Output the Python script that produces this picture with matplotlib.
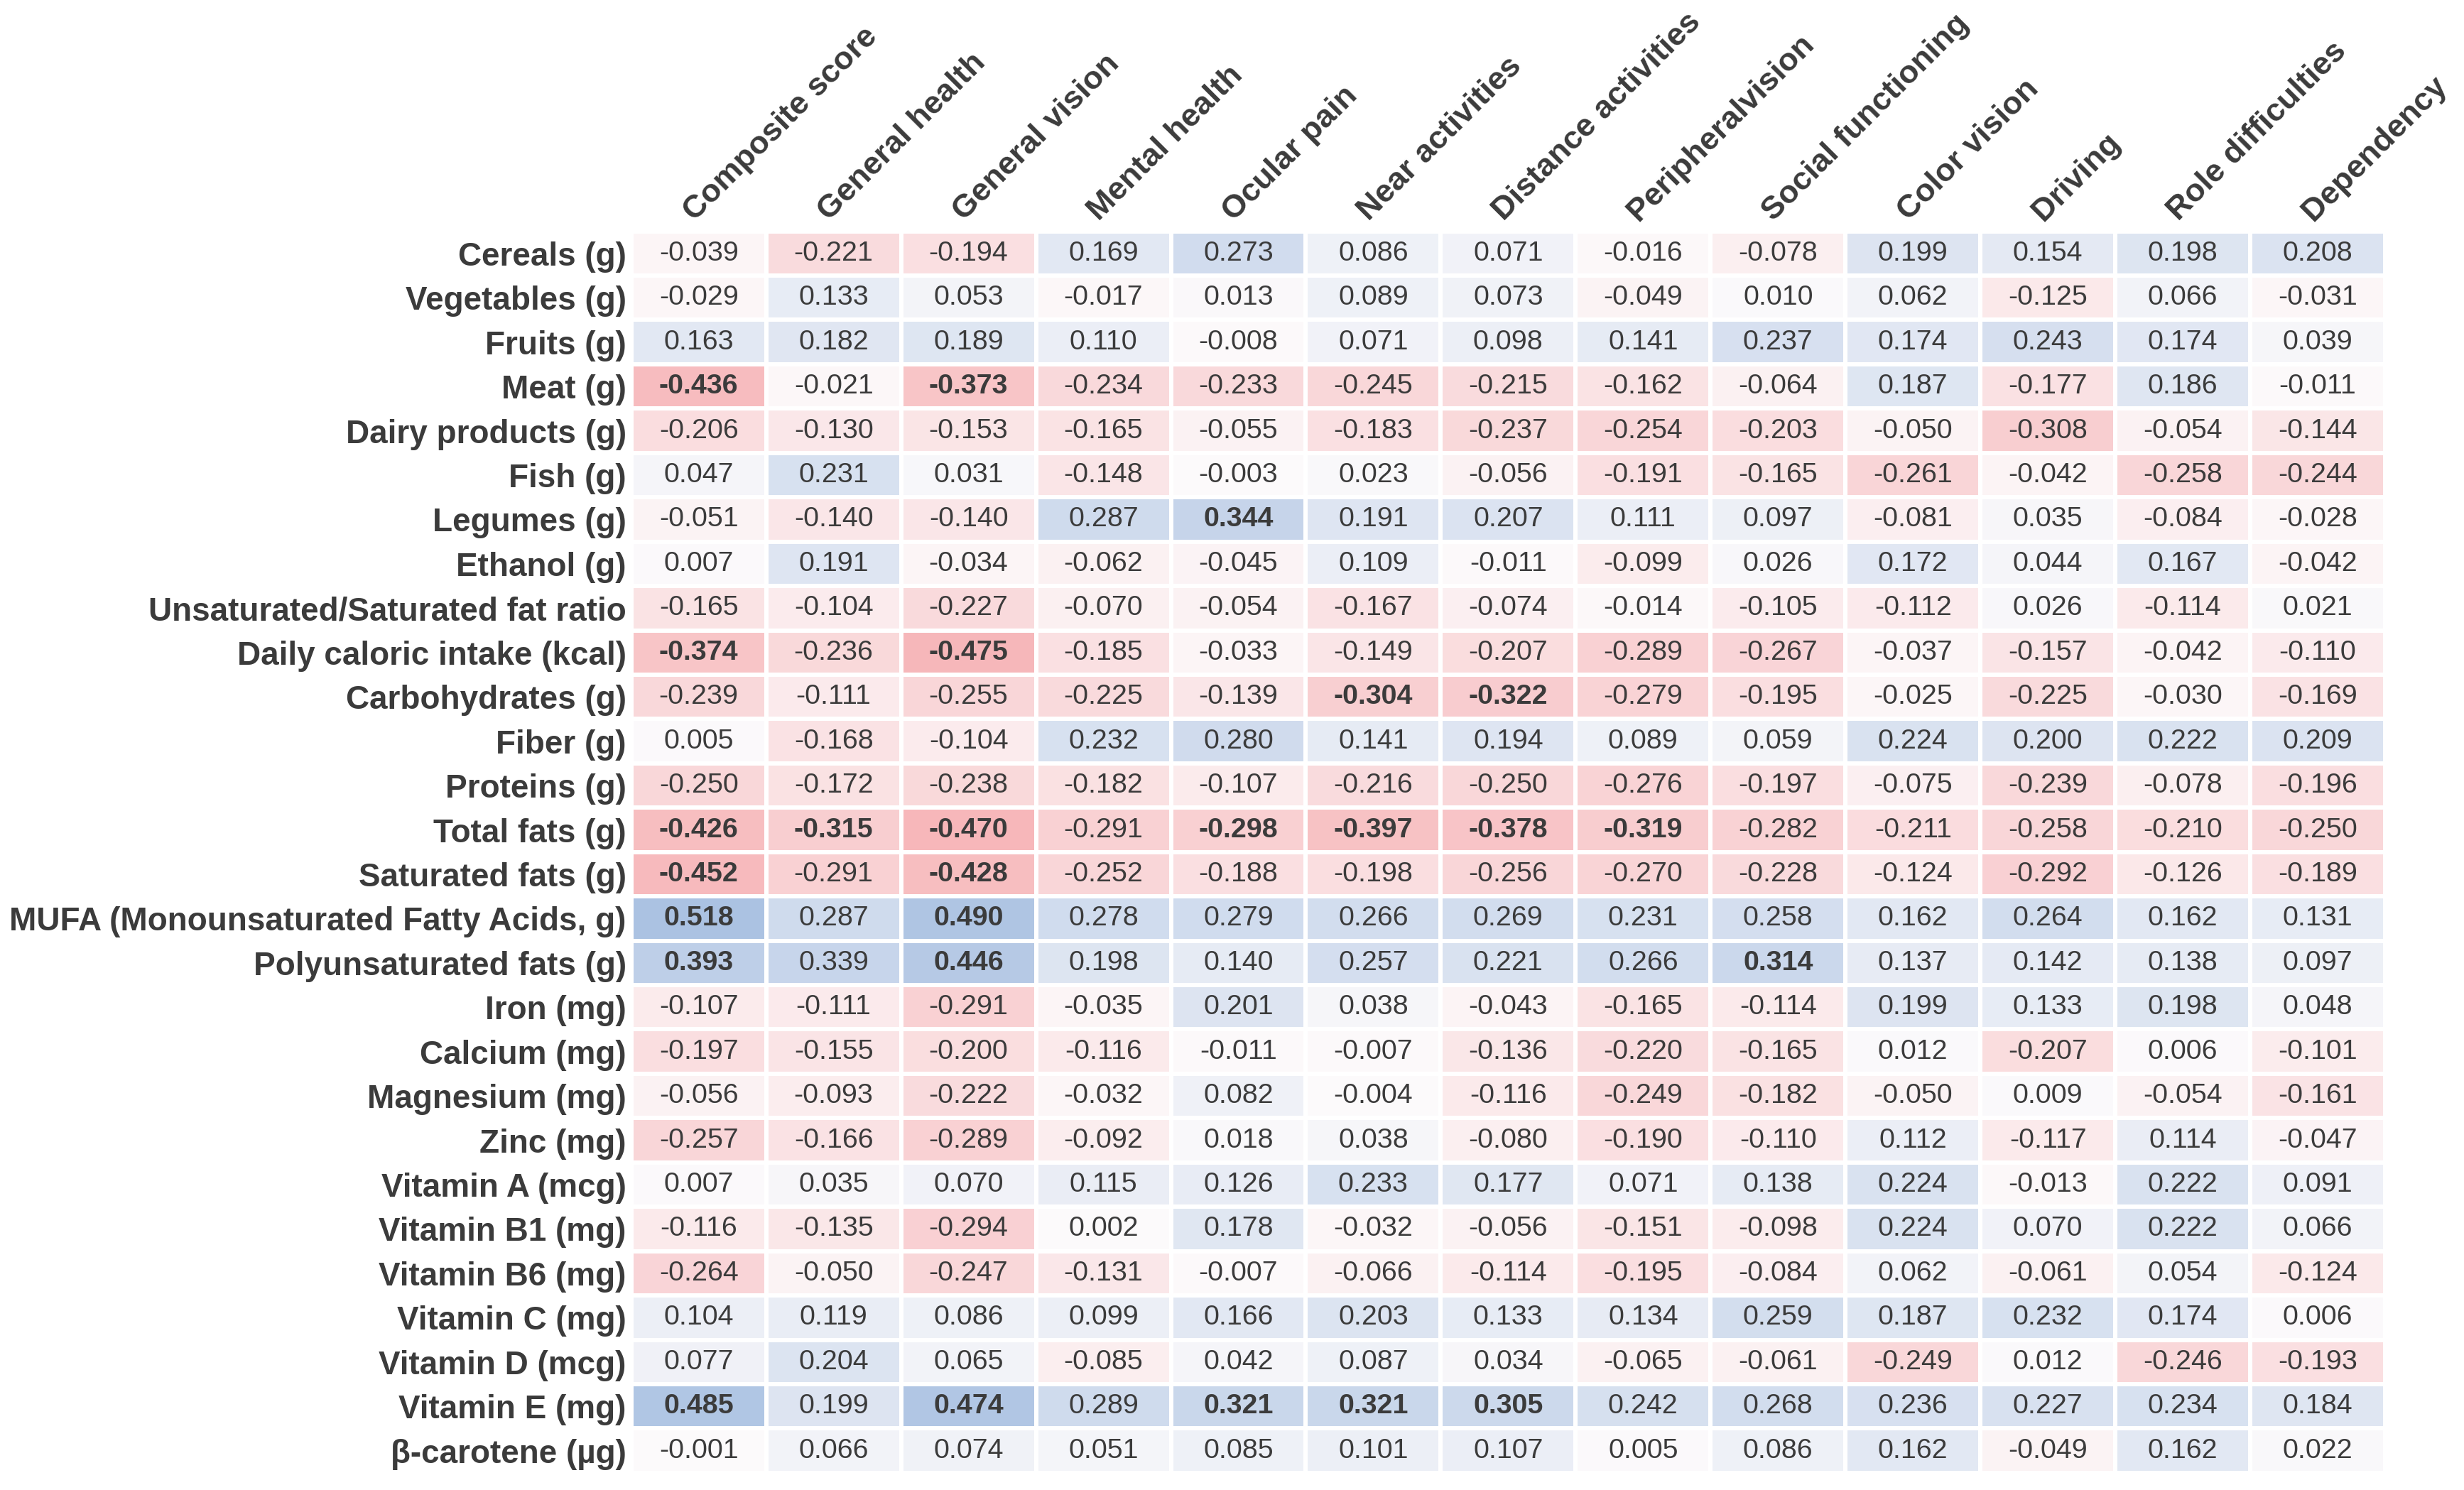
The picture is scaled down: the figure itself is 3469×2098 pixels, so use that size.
import numpy as np
import matplotlib
matplotlib.use("Agg")
import matplotlib.pyplot as plt
from matplotlib.colors import LinearSegmentedColormap, Normalize

plt.rcParams['font.family'] = ['Liberation Sans', 'DejaVu Sans']

cols = ["Composite score", "General health", "General vision", "Mental health",
        "Ocular pain", "Near activities", "Distance activities", "Peripheralvision",
        "Social functioning", "Color vision", "Driving", "Role difficulties", "Dependency"]

rows = ["Cereals (g)", "Vegetables (g)", "Fruits (g)", "Meat (g)", "Dairy products (g)",
        "Fish (g)", "Legumes (g)", "Ethanol (g)", "Unsaturated/Saturated fat ratio",
        "Daily caloric intake (kcal)", "Carbohydrates (g)", "Fiber (g)", "Proteins (g)",
        "Total fats (g)", "Saturated fats (g)", "MUFA (Monounsaturated Fatty Acids, g)",
        "Polyunsaturated fats (g)", "Iron (mg)", "Calcium (mg)", "Magnesium (mg)",
        "Zinc (mg)", "Vitamin A (mcg)", "Vitamin B1 (mg)", "Vitamin B6 (mg)",
        "Vitamin C (mg)", "Vitamin D (mcg)", "Vitamin E (mg)", "\u03b2-carotene (\u00b5g)"]

vals = np.array([
    [-0.039, -0.221, -0.194, 0.169, 0.273, 0.086, 0.071, -0.016, -0.078, 0.199, 0.154, 0.198, 0.208],
    [-0.029, 0.133, 0.053, -0.017, 0.013, 0.089, 0.073, -0.049, 0.010, 0.062, -0.125, 0.066, -0.031],
    [0.163, 0.182, 0.189, 0.110, -0.008, 0.071, 0.098, 0.141, 0.237, 0.174, 0.243, 0.174, 0.039],
    [-0.436, -0.021, -0.373, -0.234, -0.233, -0.245, -0.215, -0.162, -0.064, 0.187, -0.177, 0.186, -0.011],
    [-0.206, -0.130, -0.153, -0.165, -0.055, -0.183, -0.237, -0.254, -0.203, -0.050, -0.308, -0.054, -0.144],
    [0.047, 0.231, 0.031, -0.148, -0.003, 0.023, -0.056, -0.191, -0.165, -0.261, -0.042, -0.258, -0.244],
    [-0.051, -0.140, -0.140, 0.287, 0.344, 0.191, 0.207, 0.111, 0.097, -0.081, 0.035, -0.084, -0.028],
    [0.007, 0.191, -0.034, -0.062, -0.045, 0.109, -0.011, -0.099, 0.026, 0.172, 0.044, 0.167, -0.042],
    [-0.165, -0.104, -0.227, -0.070, -0.054, -0.167, -0.074, -0.014, -0.105, -0.112, 0.026, -0.114, 0.021],
    [-0.374, -0.236, -0.475, -0.185, -0.033, -0.149, -0.207, -0.289, -0.267, -0.037, -0.157, -0.042, -0.110],
    [-0.239, -0.111, -0.255, -0.225, -0.139, -0.304, -0.322, -0.279, -0.195, -0.025, -0.225, -0.030, -0.169],
    [0.005, -0.168, -0.104, 0.232, 0.280, 0.141, 0.194, 0.089, 0.059, 0.224, 0.200, 0.222, 0.209],
    [-0.250, -0.172, -0.238, -0.182, -0.107, -0.216, -0.250, -0.276, -0.197, -0.075, -0.239, -0.078, -0.196],
    [-0.426, -0.315, -0.470, -0.291, -0.298, -0.397, -0.378, -0.319, -0.282, -0.211, -0.258, -0.210, -0.250],
    [-0.452, -0.291, -0.428, -0.252, -0.188, -0.198, -0.256, -0.270, -0.228, -0.124, -0.292, -0.126, -0.189],
    [0.518, 0.287, 0.490, 0.278, 0.279, 0.266, 0.269, 0.231, 0.258, 0.162, 0.264, 0.162, 0.131],
    [0.393, 0.339, 0.446, 0.198, 0.140, 0.257, 0.221, 0.266, 0.314, 0.137, 0.142, 0.138, 0.097],
    [-0.107, -0.111, -0.291, -0.035, 0.201, 0.038, -0.043, -0.165, -0.114, 0.199, 0.133, 0.198, 0.048],
    [-0.197, -0.155, -0.200, -0.116, -0.011, -0.007, -0.136, -0.220, -0.165, 0.012, -0.207, 0.006, -0.101],
    [-0.056, -0.093, -0.222, -0.032, 0.082, -0.004, -0.116, -0.249, -0.182, -0.050, 0.009, -0.054, -0.161],
    [-0.257, -0.166, -0.289, -0.092, 0.018, 0.038, -0.080, -0.190, -0.110, 0.112, -0.117, 0.114, -0.047],
    [0.007, 0.035, 0.070, 0.115, 0.126, 0.233, 0.177, 0.071, 0.138, 0.224, -0.013, 0.222, 0.091],
    [-0.116, -0.135, -0.294, 0.002, 0.178, -0.032, -0.056, -0.151, -0.098, 0.224, 0.070, 0.222, 0.066],
    [-0.264, -0.050, -0.247, -0.131, -0.007, -0.066, -0.114, -0.195, -0.084, 0.062, -0.061, 0.054, -0.124],
    [0.104, 0.119, 0.086, 0.099, 0.166, 0.203, 0.133, 0.134, 0.259, 0.187, 0.232, 0.174, 0.006],
    [0.077, 0.204, 0.065, -0.085, 0.042, 0.087, 0.034, -0.065, -0.061, -0.249, 0.012, -0.246, -0.193],
    [0.485, 0.199, 0.474, 0.289, 0.321, 0.321, 0.305, 0.242, 0.268, 0.236, 0.227, 0.234, 0.184],
    [-0.001, 0.066, 0.074, 0.051, 0.085, 0.101, 0.107, 0.005, 0.086, 0.162, -0.049, 0.162, 0.022],
])

# significant cells shown in bold: row index -> column indices
bold = {3: [0, 2], 6: [4], 9: [0, 2], 10: [5, 6], 13: [0, 1, 2, 4, 5, 6, 7],
        14: [0, 2], 15: [0, 2], 16: [0, 2, 8], 26: [0, 2, 4, 5, 6]}

txtcol = '#3b3b3b'
cmap = LinearSegmentedColormap.from_list(
    "pinkblue", [(246/255, 177/255, 180/255), (252/255, 250/255, 251/255), (171/255, 194/255, 226/255)])

fig = plt.figure(figsize=(17.345, 10.49), dpi=200)
ax = fig.add_axes([0.2562, 0.0115, 0.7118, 0.8333])

ax.pcolormesh(vals, cmap=cmap, norm=Normalize(-0.518, 0.518),
              edgecolors='white', linewidth=1.6)
ax.set_xlim(0, len(cols))
ax.set_ylim(len(rows), 0)

for i in range(len(rows)):
    for j in range(len(cols)):
        w = 'bold' if j in bold.get(i, []) else 'normal'
        ax.text(j + 0.5, i + 0.5, "%.3f" % vals[i, j], ha='center', va='center',
                fontsize=14.2, color=txtcol, fontweight=w)

ax.xaxis.tick_top()
ax.set_xticks(np.arange(len(cols)) + 0.5)
ax.set_xticklabels(cols, rotation=45, ha='left', va='bottom', rotation_mode='anchor',
                   fontsize=16.3, fontweight='bold', color=txtcol)
ax.set_yticks(np.arange(len(rows)) + 0.5)
ax.set_yticklabels(rows, fontsize=16.5, fontweight='bold', color=txtcol)
ax.tick_params(length=0, pad=2.5)
for s in ax.spines.values():
    s.set_visible(False)

fig.savefig("out.png", dpi=200)
